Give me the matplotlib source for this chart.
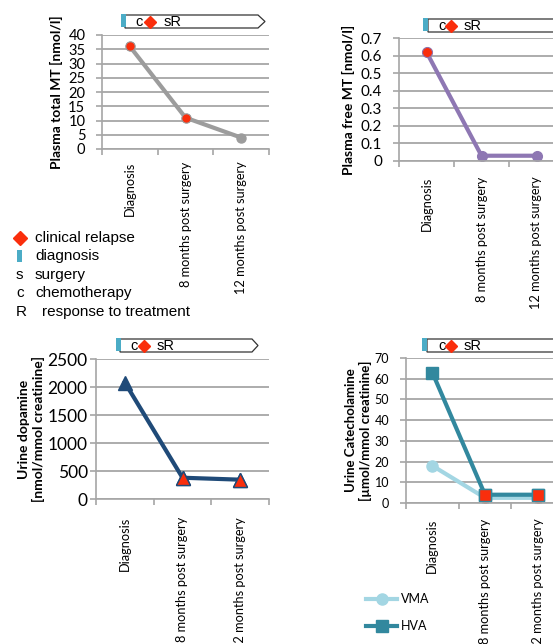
import matplotlib
matplotlib.use("Agg")
import matplotlib.pyplot as plt
from matplotlib.patches import Polygon, Rectangle
from matplotlib.lines import Line2D

W, H = 553, 644

categories = ['Diagnosis', '8 months post surgery', '12 months post surgery']
total_mt = [36, 11, 4]
free_mt = [0.62, 0.03, 0.03]
dopamine = [2080, 380, 345]
vma = [18, 2.5, 2.5]
hva = [63, 4, 4]
# which time points were at clinical relapse (red markers)
total_mt_red = [True, True, False]
free_mt_red = [True, False, False]
dopamine_red = [False, True, True]
urine_red = [False, True, True]

RED = '#FA2E0C'
TL_BLUE = '#4BACC6'
GRID = '#A6A6A6'
AX_FONT = 'Lato'
TXT_FONT = 'Liberation Sans'

fig = plt.figure(figsize=(W / 100, H / 100), dpi=100)


def fx(x):
    return x / W


def fy(y):
    return 1 - y / H


def make_axes(left, right, top, bottom):
    return fig.add_axes([left / W, 1 - bottom / H, (right - left) / W, (bottom - top) / H])


def style_axes(ax, ymax, ystep, yfs, ypad, xpad, yfmt=None):
    x = list(range(len(categories)))
    ax.set_xlim(-0.5, len(categories) - 0.5)
    ax.set_ylim(0, ymax)
    for s in ['top', 'right']:
        ax.spines[s].set_visible(False)
    for s in ['left', 'bottom']:
        ax.spines[s].set_color(GRID)
        ax.spines[s].set_linewidth(1.2)
    ax.set_xticks(x)
    ax.set_xticklabels(categories, rotation=90, fontsize=9.2, family=AX_FONT, va='top')
    ax.tick_params(axis='x', which='major', length=0, pad=xpad)
    ax.set_xticks([i - 0.5 for i in range(len(categories) + 1)], minor=True)
    ax.tick_params(axis='x', which='minor', length=4, color=GRID, width=1.2)
    yt = [i * ystep for i in range(int(round(ymax / ystep)) + 1)]
    ax.set_yticks(yt)
    if yfmt:
        ax.set_yticklabels([yfmt(v) for v in yt])
    ax.tick_params(axis='y', length=4, color=GRID, width=1.2, pad=ypad, labelsize=yfs)
    for lab in ax.get_yticklabels():
        lab.set_family(AX_FONT)
    ax.yaxis.grid(True, color=GRID, linewidth=1.3)
    ax.set_axisbelow(True)


def timeline(blue_x, top, box_left, box_right, tip_x, c_x, d_x, sr_x):
    bot = top + 13
    mid = (top + bot) / 2
    pts = [(box_left, top), (box_right, top), (tip_x, mid), (box_right, bot), (box_left, bot)]
    fig.add_artist(Polygon([(fx(a), fy(b)) for a, b in pts], closed=True,
                           facecolor='white', edgecolor='#333333', linewidth=0.9,
                           transform=fig.transFigure))
    fig.add_artist(Rectangle((fx(blue_x), fy(bot - 1)), 5 / W, 13 / H,
                             facecolor=TL_BLUE, edgecolor='none', transform=fig.transFigure))
    fig.text(fx(c_x), fy(mid), 'c', fontsize=10.5, family=TXT_FONT, va='center', ha='left')
    fig.add_artist(Line2D([fx(d_x)], [fy(mid)], marker='D', markersize=6.5, color=RED,
                          linestyle='none', transform=fig.transFigure))
    fig.text(fx(sr_x), fy(mid), 'sR', fontsize=10.5, family=TXT_FONT, va='center', ha='left')


x = list(range(len(categories)))

# panel 1: plasma total MT
ax1 = make_axes(102, 269, 35, 149)
ax1.plot(x, total_mt, color='#9C9C9C', lw=3, marker='o', ms=6.5, mfc='#9C9C9C', mec='#9C9C9C')
ax1.plot([i for i in x if total_mt_red[i]], [total_mt[i] for i in x if total_mt_red[i]],
         'o', color=RED, ms=6.5, mec='#9C9C9C', mew=0.5)
style_axes(ax1, 40, 5, 10.5, 8, 9)
ax1.set_ylabel('Plasma total MT [nmol/l]', fontsize=10, fontweight='bold', family=AX_FONT, labelpad=4)
timeline(121, 15, 125, 258, 265, 135, 150, 164)

# panel 2: plasma free MT
PURPLE = '#8E77B3'
ax2 = make_axes(399, 564, 38, 161)
ax2.plot(x, free_mt, color=PURPLE, lw=3, marker='o', ms=7, mfc=PURPLE, mec=PURPLE)
ax2.plot([i for i in x if free_mt_red[i]], [free_mt[i] for i in x if free_mt_red[i]],
         'o', color=RED, ms=7, mec=PURPLE, mew=0.5)
style_axes(ax2, 0.7, 0.1, 11, 8, 11, yfmt=lambda v: '0' if v == 0 else '%.1f' % v)
ax2.set_ylabel('Plasma free MT [nmol/l]', fontsize=10, fontweight='bold', family=AX_FONT, labelpad=4)
timeline(423, 19, 428, 640, 650, 438, 451, 464)

# panel 3: urine dopamine
NAVY = '#1F4A78'
ax3 = make_axes(96, 269, 359, 499)
ax3.plot(x, dopamine, color=NAVY, lw=3, marker='^', ms=10, mfc=NAVY, mec=NAVY)
ax3.plot([i for i in x if dopamine_red[i]], [dopamine[i] for i in x if dopamine_red[i]],
         '^', color=RED, ms=10, mec=NAVY, mew=1)
style_axes(ax3, 2500, 500, 12.5, 2, 13)
ax3.set_ylabel('Urine dopamine\n[nmol/mmol creatinine]', fontsize=10, fontweight='bold',
               family=AX_FONT, labelpad=2, linespacing=1.15)
timeline(116, 339, 120, 252, 258, 130, 144, 157)

# panel 4: urine catecholamine
LBLUE = '#A3D6E3'
TEAL = '#32889E'
ax4 = make_axes(406, 564, 358, 503)
l_vma, = ax4.plot(x, vma, color=LBLUE, lw=3, marker='o', ms=8, mfc=LBLUE, mec=LBLUE, label='VMA')
ax4.plot([i for i in x if urine_red[i]], [vma[i] for i in x if urine_red[i]],
         'o', color=RED, ms=8, mec=LBLUE, mew=0.5)
l_hva, = ax4.plot(x, hva, color=TEAL, lw=3, marker='s', ms=9, mfc=TEAL, mec=TEAL, label='HVA')
ax4.plot([i for i in x if urine_red[i]], [hva[i] for i in x if urine_red[i]],
         's', color=RED, ms=9, mec=TEAL, mew=1)
style_axes(ax4, 70, 10, 9, 8, 11)
ax4.set_ylabel('Urine Catecholamine\n[µmol/mmol creatinine]', fontsize=9.5, fontweight='bold',
               family=AX_FONT, labelpad=2, linespacing=1.15)
timeline(422, 339, 427, 640, 650, 438, 451, 464)

fig.legend(handles=[l_vma, l_hva], loc='upper left', bbox_to_anchor=(fx(361), fy(588)),
           frameon=False, handlelength=2.5, handletextpad=0.3, labelspacing=1.2, borderaxespad=0,
           prop={'family': AX_FONT, 'size': 9})

# left key
fig.add_artist(Line2D([fx(20)], [fy(238)], marker='D', markersize=7.5, color=RED,
                      linestyle='none', transform=fig.transFigure))
fig.add_artist(Rectangle((fx(17), fy(262)), 5 / W, 12 / H, facecolor=TL_BLUE,
                         edgecolor='none', transform=fig.transFigure))
key_rows = [(238, None, 'clinical relapse'), (256, None, 'diagnosis'),
            (275, 's', 'surgery'), (293, 'c', 'chemotherapy'), (312, 'R', 'response to treatment')]
for yy, sym, label in key_rows:
    if sym:
        fig.text(fx(16), fy(yy), sym, fontsize=11, family=TXT_FONT, va='center', ha='left')
    fig.text(fx(42 if sym == 'R' else 35), fy(yy), label, fontsize=11, family=TXT_FONT,
             va='center', ha='left')

fig.savefig('out.png', dpi=100)
